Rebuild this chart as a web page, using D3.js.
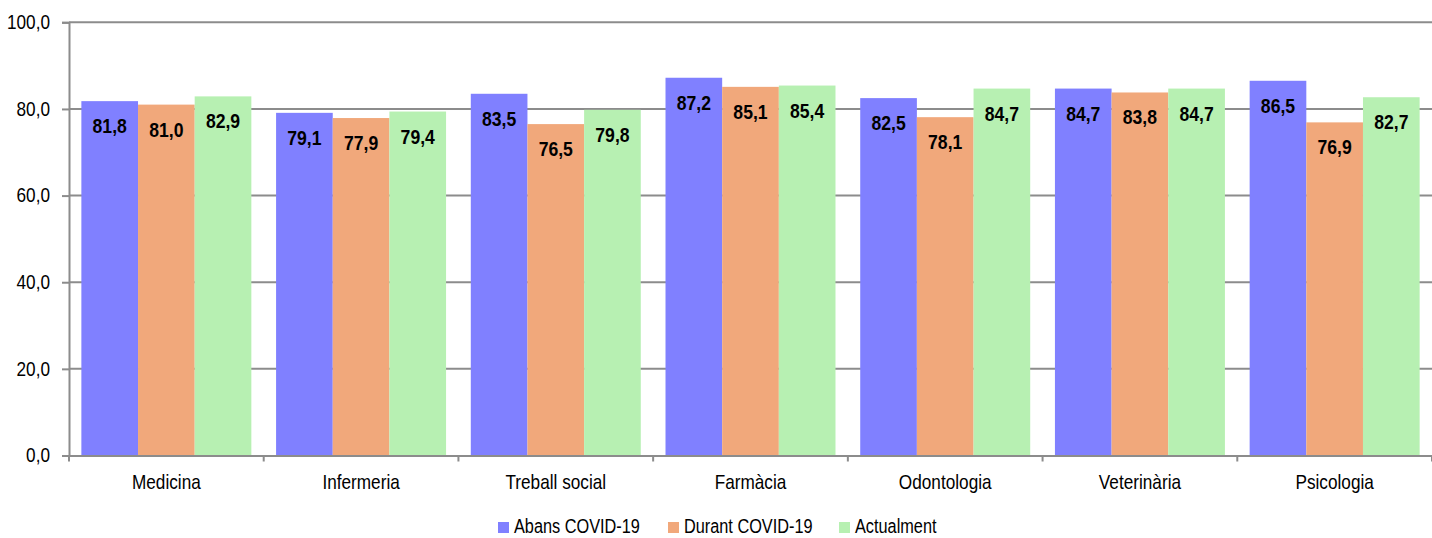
<!DOCTYPE html>
<html><head><meta charset="utf-8">
<script src="https://cdn.jsdelivr.net/npm/d3@7"></script>
<style>
html,body{margin:0;padding:0;background:#fff;}
svg text{font-family:"Liberation Sans",Arial,sans-serif;}
</style></head>
<body><svg id="chart" width="1432" height="538"></svg>
<script>
const categories = ["Medicina","Infermeria","Treball social","Farmàcia","Odontologia","Veterinària","Psicologia"];
const seriesNames = ["Abans COVID-19","Durant COVID-19","Actualment"];
const abans = [81.8,79.1,83.5,87.2,82.5,84.7,86.5];
const durant = [81.0,77.9,76.5,85.1,78.1,83.8,76.9];
const actualment = [82.9,79.4,79.8,85.4,84.7,84.7,82.7];
const yTicks = [0,20,40,60,80,100];
const colors = ["#8080FF","#F1A87B","#B7F0B2"];

const series = [abans, durant, actualment];
const svg = d3.select("#chart");
const pLeft = 69, pRight = 1432, pTop = 22.3, pBottom = 455.5;
const fmt = v => d3.format(".1f")(v).replace(".", ",");

// horizontal condensing (narrow font look)
function squeeze(sel, s) {
  sel.each(function() {
    const t = d3.select(this);
    const x = +(t.attr("x") || 0);
    t.attr("transform", `translate(${x},0) scale(${s},1) translate(${-x},0)`);
  });
}

const y = d3.scaleLinear().domain([0,100]).range([pBottom, pTop]);
const x0 = d3.scaleBand().domain(categories).range([pLeft, pRight]).paddingInner(0).paddingOuter(0);
const bw = x0.bandwidth();
const x1 = d3.scaleBand().domain(seriesNames).range([bw*0.0635, bw*0.9365]).padding(0);

// gridlines
svg.append("g").selectAll("line").data(yTicks.filter(d=>d>0)).join("line")
  .attr("x1", pLeft).attr("x2", pRight).attr("y1", d=>y(d)).attr("y2", d=>y(d))
  .attr("stroke","#8c8c8c").attr("stroke-width",2);

// bars
const g = svg.append("g");
categories.forEach((c, i) => {
  series.forEach((s, j) => {
    const v = s[i];
    const bx = x0(c) + x1(seriesNames[j]);
    g.append("rect").attr("x", bx).attr("y", y(v)).attr("width", x1.bandwidth()).attr("height", y(0)-y(v))
      .attr("fill", colors[j]);
    g.append("text").attr("class","val").attr("x", bx + x1.bandwidth()/2).attr("y", y(v) + 32)
      .attr("text-anchor","middle").attr("font-weight","bold").attr("font-size",20).attr("fill","#000")
      .text(fmt(v));
  });
});
squeeze(g.selectAll("text.val"), 0.88);

// y axis
const yAxis = d3.axisLeft(y).tickValues(yTicks).tickFormat(fmt).tickSize(7).tickPadding(12);
const ya = svg.append("g").attr("transform",`translate(${pLeft},0)`).call(yAxis);
ya.select(".domain").attr("stroke","#8c8c8c").attr("stroke-width",2);
ya.selectAll(".tick line").attr("stroke","#8c8c8c").attr("stroke-width",2);
ya.selectAll("text").attr("font-size",20).attr("fill","#000").attr("font-family",null);
squeeze(ya.selectAll("text"), 0.86);

// x axis
const xa = svg.append("g").attr("transform",`translate(0,${pBottom})`)
  .call(d3.axisBottom(x0).tickSize(0).tickPadding(19.5));
xa.select(".domain").attr("stroke","#8c8c8c").attr("stroke-width",2);
xa.selectAll("text").attr("font-size",20).attr("fill","#000").attr("font-family",null);
squeeze(xa.selectAll("text"), 0.86);
// category separators
svg.append("g").selectAll("line").data(categories.map(c=>x0(c)).concat([pRight])).join("line")
  .attr("x1",d=>d).attr("x2",d=>d).attr("y1",pBottom).attr("y2",pBottom+6)
  .attr("stroke","#8c8c8c").attr("stroke-width",2);

// legend
const legX = [498, 668, 839];
const leg = svg.append("g");
seriesNames.forEach((n, j) => {
  leg.append("rect").attr("x", legX[j]).attr("y", 522).attr("width", 11).attr("height", 11).attr("fill", colors[j]);
  leg.append("text").attr("class","lg").attr("x", legX[j]+16).attr("y", 533.5).attr("font-size",20).attr("fill","#000").text(n);
});
squeeze(leg.selectAll("text.lg"), 0.815);
</script></body></html>
